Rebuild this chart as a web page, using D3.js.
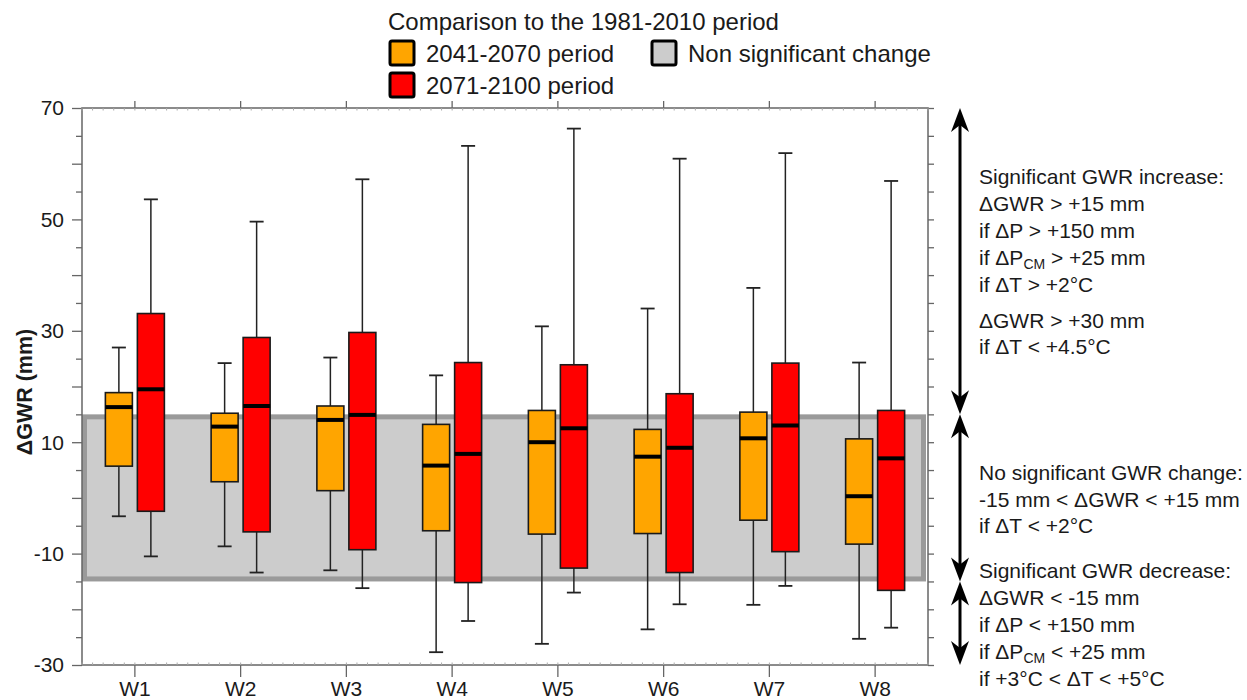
<!DOCTYPE html>
<html><head><meta charset="utf-8">
<script src="https://cdn.jsdelivr.net/npm/d3@7"></script>
<style>body{margin:0;background:#fff}svg{display:block}text{font-family:Arial,"Liberation Sans",sans-serif;fill:#1a1a1a}</style>
</head><body><svg id="c" width="1247" height="700"></svg>
<script>
// ---- data ----
const categories = ["W1","W2","W3","W4","W5","W6","W7","W8"];
const seriesNames = ["2041-2070 period","2071-2100 period"];
const seriesColors = ["#FFA500","#FF0000"];
// 2041-2070 period (orange)
const midLow  = [-3.3,-8.7,-13.0,-27.7,-26.2,-23.6,-19.2,-25.3];
const midQ1   = [5.7, 2.9, 1.3, -5.9, -6.5, -6.4, -4.0, -8.3];
const midMed  = [16.3,12.8,14.0, 5.8, 10.0, 7.4, 10.7, 0.3];
const midQ3   = [18.9,15.2,16.5,13.2, 15.7,12.3, 15.4,10.6];
const midHigh = [27.0,24.2,25.2,22.0, 30.8,34.0, 37.7,24.3];
// 2071-2100 period (red)
const endLow  = [-10.5,-13.4,-16.2,-22.1,-17.0,-19.1,-15.8,-23.3];
const endQ1   = [-2.4, -6.1, -9.3,-15.2,-12.6,-13.4, -9.65,-16.6];
const endMed  = [19.5, 16.5, 14.9, 7.9, 12.5, 9.0, 13.0, 7.1];
const endQ3   = [33.1, 28.8, 29.7,24.3, 23.9,18.7, 24.2,15.7];
const endHigh = [53.6, 49.6, 57.2,63.2, 66.3,60.9, 61.9,56.9];
const yTickValues = d3.range(-30, 71, 5);
const yLabelValues = [70,50,30,10,-10,-30];
const nonSigBand = [-15, 15];
const legendTitle = "Comparison to the 1981-2010 period";
const nonSigLabel = "Non significant change";
const yTitle = "ΔGWR (mm)";

const series = [
  {low:midLow,q1:midQ1,med:midMed,q3:midQ3,high:midHigh},
  {low:endLow,q1:endQ1,med:endMed,q3:endQ3,high:endHigh}
];

// ---- layout ----
const svg = d3.select("#c");
const L=82, R=928, T=108, B=665;
const x = d3.scaleBand().domain(categories).range([L,R]).padding(0);
const y = d3.scaleLinear().domain([-30,70]).range([B,T]);
const bw = x.bandwidth();
const offsets = [-16, 16];
const boxW = 27, capW = 14;

// non-significant band
svg.append("rect")
  .attr("x", L+2.5).attr("width", (R-2)-(L)-5)
  .attr("y", y(nonSigBand[1])+2.5).attr("height", y(nonSigBand[0])-y(nonSigBand[1])-5)
  .attr("fill","#cccccc").attr("stroke","#9a9a9a").attr("stroke-width",5);

// boxes
series.forEach((s,si)=>{
  const g = svg.append("g");
  categories.forEach((c,i)=>{
    const cx = x(c)+bw/2+offsets[si];
    g.append("line").attr("x1",cx).attr("x2",cx).attr("y1",y(s.high[i])).attr("y2",y(s.q3[i]))
      .attr("stroke","#222").attr("stroke-width",1.5);
    g.append("line").attr("x1",cx).attr("x2",cx).attr("y1",y(s.q1[i])).attr("y2",y(s.low[i]))
      .attr("stroke","#222").attr("stroke-width",1.5);
    [s.high[i], s.low[i]].forEach(v=>{
      g.append("line").attr("x1",cx-capW/2).attr("x2",cx+capW/2).attr("y1",y(v)).attr("y2",y(v))
        .attr("stroke","#222").attr("stroke-width",1.8);
    });
    g.append("rect").attr("x",cx-boxW/2).attr("width",boxW)
      .attr("y",y(s.q3[i])).attr("height",y(s.q1[i])-y(s.q3[i]))
      .attr("fill",seriesColors[si]).attr("stroke","#1a1a1a").attr("stroke-width",1.6);
    g.append("line").attr("x1",cx-boxW/2).attr("x2",cx+boxW/2).attr("y1",y(s.med[i])).attr("y2",y(s.med[i]))
      .attr("stroke","#000").attr("stroke-width",4);
  });
});

// frame
svg.append("rect").attr("x",L).attr("y",T).attr("width",R-L).attr("height",B-T)
  .attr("fill","none").attr("stroke","#666").attr("stroke-width",1.5);

// left axis
const axLeft = svg.append("g").attr("transform",`translate(${L},0)`)
  .call(d3.axisLeft(y).tickValues(yTickValues).tickSize(0).tickFormat(""));
axLeft.select(".domain").remove();
axLeft.selectAll(".tick line").attr("x2", d=> d%10===0 ? -10 : -6).attr("stroke","#666").attr("stroke-width",1.3);
yLabelValues.forEach(v=>{
  svg.append("text").attr("x",64).attr("y",y(v)).attr("dy","0.35em").attr("text-anchor","end")
    .attr("font-size",21).text(v);
});
// right axis
const axRight = svg.append("g").attr("transform",`translate(${R},0)`)
  .call(d3.axisRight(y).tickValues(yTickValues).tickSize(6).tickFormat(""));
axRight.select(".domain").remove();
axRight.selectAll(".tick line").attr("stroke","#666").attr("stroke-width",1.3);

// bottom axis
const axBottom = svg.append("g").attr("transform",`translate(0,${B})`)
  .call(d3.axisBottom(x).tickSize(12).tickPadding(4));
axBottom.select(".domain").remove();
axBottom.selectAll(".tick line").attr("stroke","#666").attr("stroke-width",1.3);
axBottom.selectAll(".tick text").attr("font-size",21).attr("font-family","Arial, Liberation Sans, sans-serif").attr("fill","#1a1a1a");
// top axis
const axTop = svg.append("g").attr("transform",`translate(0,${T})`)
  .call(d3.axisTop(x).tickSize(7).tickFormat(""));
axTop.select(".domain").remove();
axTop.selectAll(".tick line").attr("stroke","#666").attr("stroke-width",1.3);
// minor ticks top/bottom
const minor = d3.range(0, categories.length*10+1).map(k=>L + k*bw/10);
[T,B].forEach(yy=>{
  svg.append("g").selectAll("line").data(minor).join("line")
    .attr("x1",d=>d).attr("x2",d=>d).attr("y1",yy).attr("y2", yy===T? yy+2.5 : yy-2.5)
    .attr("stroke","#aaa").attr("stroke-width",1);
});

// y title
svg.append("text").attr("transform",`translate(32,392) rotate(-90)`)
  .attr("text-anchor","middle").attr("font-size",21.5).attr("font-weight","bold").text(yTitle);

// legend
svg.append("text").attr("x",388).attr("y",30).attr("font-size",24).text(legendTitle);
const legendItems = [
  {label:seriesNames[0], color:seriesColors[0], x:390, y:41},
  {label:seriesNames[1], color:seriesColors[1], x:390, y:73},
  {label:nonSigLabel, color:"#cccccc", x:652, y:41}
];
legendItems.forEach(d=>{
  svg.append("rect").attr("x",d.x).attr("y",d.y).attr("width",24).attr("height",24).attr("rx",2)
    .attr("fill",d.color).attr("stroke","#000").attr("stroke-width",3);
  svg.append("text").attr("x",d.x+36).attr("y",d.y+21).attr("font-size",24).text(d.label);
});

// right arrows
const ax = 960;
function arrowHead(tipY, dir){
  const len=24, hw=9, notch=17;
  const by = tipY - dir*len, ny = tipY - dir*notch;
  return `M${ax},${tipY} L${ax-hw},${by} L${ax},${ny} L${ax+hw},${by} Z`;
}
[[70,15],[15,-15],[-15,-30]].forEach(([a,b])=>{
  const y1=y(a), y2=y(b);
  svg.append("line").attr("x1",ax).attr("x2",ax).attr("y1",y1+10).attr("y2",y2-10)
    .attr("stroke","#000").attr("stroke-width",3);
  svg.append("path").attr("d",arrowHead(y1,-1)).attr("fill","#000");
  svg.append("path").attr("d",arrowHead(y2,1)).attr("fill","#000");
});

// annotations
const annX = 979;
function annLine(yy, parts){
  const t = svg.append("text").attr("x",annX).attr("y",yy).attr("font-size",21);
  parts.forEach(p=>{
    if (typeof p === "string") t.append("tspan").text(p);
    else { t.append("tspan").attr("font-size",14).attr("dy",4).text(p.sub);
           t.append("tspan").attr("dy",-4).text(p.after); }
  });
}
annLine(184, ["Significant GWR increase:"]);
annLine(211, ["ΔGWR > +15 mm"]);
annLine(238, ["if ΔP > +150 mm"]);
annLine(265, ["if ΔP", {sub:"CM", after:" > +25 mm"}]);
annLine(292, ["if ΔT > +2°C"]);
annLine(328, ["ΔGWR > +30 mm"]);
annLine(354, ["if ΔT < +4.5°C"]);
annLine(480, ["No significant GWR change:"]);
annLine(507, ["-15 mm < ΔGWR < +15 mm"]);
annLine(533, ["if ΔT < +2°C"]);
annLine(578, ["Significant GWR decrease:"]);
annLine(605, ["ΔGWR < -15 mm"]);
annLine(632, ["if ΔP < +150 mm"]);
annLine(659, ["if ΔP", {sub:"CM", after:" < +25 mm"}]);
annLine(686, ["if +3°C < ΔT < +5°C"]);
</script></body></html>
